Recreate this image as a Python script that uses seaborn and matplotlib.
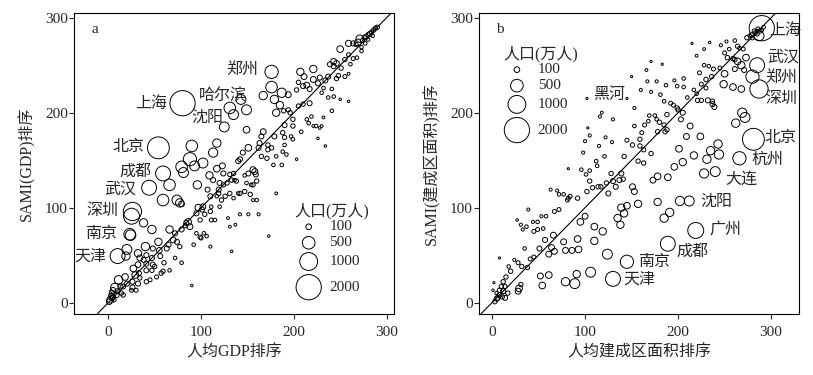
import numpy as np
import pandas as pd
import matplotlib
matplotlib.use("Agg")
import matplotlib.pyplot as plt
import seaborn as sns
from matplotlib.offsetbox import DrawingArea, TextArea, HPacker, VPacker, AnchoredOffsetbox
from matplotlib.patches import Circle

sns.set_style("ticks")
FAM = ["Liberation Serif", "Noto Sans CJK SC", "DejaVu Sans"]
plt.rcParams["font.family"] = FAM

# ---------------- Panel a: per-capita GDP rank vs SAMI(GDP) rank ----------------
a_names = ["上海", "北京", "成都", "武汉", "深圳", "南京", "天津", "郑州", "哈尔滨", "沈阳"]
a_name_x = [80, 54, 59, 44, 26, 23, 10, 176, 143, 125]
a_name_y = [210, 163, 136, 121, 96, 72, 49, 243, 214, 185]
a_name_pop = [2200, 1500, 700, 700, 1050, 420, 700, 550, 310, 310]
a_label_x = [63, 39.5, 46.7, 30.5, 10.8, 9, -1.8, 162, 124, 124]
a_label_y = [209, 163.5, 138, 119, 96, 72, 48.5, 245, 217, 194.5]

a_x = [25, 24,
       290, 288, 286, 284, 282, 280, 278, 276, 274, 271, 269, 267, 285, 280, 277, 273, 264, 259, 250, 259, 264, 255,
       243, 239, 243, 246, 251, 268, 273, 261, 255, 248, 246, 259,
       221, 207, 211, 221, 226, 228, 214, 234, 237, 232, 241, 230, 237, 243, 250, 259, 241, 217, 210, 205, 203, 194,
       176, 187, 167, 179, 185, 181,
       189, 196, 205, 210, 217, 194, 199, 214, 219, 216, 221, 228, 224, 232, 230, 208, 199, 190, 188, 197, 199, 190,
       179, 167, 165, 163, 172, 172, 162, 165, 171, 176, 190, 188, 192, 181, 178, 187, 203, 234, 226,
       151, 145, 140, 133, 138, 135, 128, 131, 124, 119, 119, 142, 147, 153, 151, 156, 158, 159, 160, 160, 156, 131,
       126, 122, 129, 131, 137, 142, 151, 162, 181, 173, 133, 90,
       142, 124, 120, 110, 102, 97, 101, 95, 104, 99, 110, 111, 115, 103, 99, 100, 106, 110, 92, 86, 88, 84, 79, 83,
       95, 77, 74, 79, 66, 70, 74, 77, 72, 72, 79, 66, 59, 57, 52, 45, 41, 32, 26, 60, 56, 54, 55, 63, 65, 48, 48, 47,
       50, 41, 41, 38, 41, 33, 29, 27, 32, 34, 26, 20, 25, 30, 16, 13, 11, 18, 7, 5, 4, 2, 4, 1, 5, 9, 14, 16, 3, 6, 10,
       40, 32, 34, 47, 20, 19, 38, 47,
       90, 88, 93, 79, 81, 102, 96, 107, 109, 113, 117, 123, 113, 117, 149, 131, 135, 149, 66, 59,
       136, 147, 149, 154, 156, 140, 135, 117, 111, 120]
a_y = [91, 71,
       290, 289, 287, 285, 283, 282, 280, 279, 276, 278, 274, 272, 281, 277, 273, 269, 273, 273, 267, 261, 257, 256,
       254, 251, 249, 252, 247, 258, 265, 251, 238, 239, 236, 241,
       246, 243, 238, 235, 231, 237, 229, 234, 238, 226, 225, 221, 216, 217, 214, 212, 202, 225, 228, 232, 224, 219,
       227, 221, 218, 214, 208, 200,
       202, 200, 207, 209, 210, 203, 193, 193, 196, 189, 186, 184, 186, 195, 186, 180, 186, 187, 179, 175, 172, 174,
       175, 180, 175, 168, 166, 161, 163, 154, 152, 163, 166, 159, 156, 154, 145, 145, 151, 165, 173,
       163, 158, 149, 129, 128, 136, 126, 135, 124, 119, 115, 115, 117, 114, 136, 140, 138, 135, 128, 108, 124, 115,
       112, 108, 89, 80, 82, 93, 93, 93, 115, 70, 54, 18,
       151, 136, 126, 112, 101, 100, 98, 94, 93, 87, 96, 87, 87, 73, 69, 68, 70, 59, 61, 85, 80, 84, 77, 81,
       73, 105, 108, 104, 77, 66, 64, 59, 73, 47, 42, 34, 33, 31, 27, 24, 22, 20, 16, 42, 49, 64, 55, 57, 61, 57, 40, 34,
       38, 34, 41, 45, 50, 31, 29, 36, 40, 26, 22, 20, 13, 13, 17, 17, 24, 27, 16, 13, 10, 3, 5, 1, 6, 8, 10, 8, 7, 3, 12,
       59, 52, 47, 47, 56, 49, 84, 77,
       165, 151, 144, 143, 137, 147, 124, 119, 134, 129, 141, 144, 158, 168, 182, 205, 198, 203, 124, 108,
       129, 134, 126, 124, 108, 115, 110, 112, 101, 101]
a_pop = [800, 350,
         60, 60, 60, 60, 80, 60, 80, 60, 60, 170, 140, 60, 40, 40, 40, 40, 80, 120, 140, 50, 50, 60,
         110, 80, 80, 100, 60, 40, 40, 40, 50, 60, 60, 25,
         170, 170, 110, 110, 80, 80, 110, 80, 80, 40, 40, 40, 40, 40, 20, 20, 40, 80, 80, 60, 60, 110,
         420, 270, 220, 220, 170, 170,
         60, 60, 60, 60, 80, 60, 60, 40, 40, 40, 25, 25, 40, 25, 25, 40, 60, 80, 60, 40, 40, 60,
         80, 110, 80, 80, 60, 60, 80, 60, 60, 60, 40, 40, 40, 40, 40, 40, 20, 20, 20,
         140, 80, 80, 60, 60, 60, 60, 60, 60, 80, 60, 60, 60, 60, 80, 110, 110, 80, 60, 40, 60, 60,
         60, 60, 25, 25, 25, 30, 30, 30, 25, 20, 20, 20,
         80, 80, 80, 80, 100, 140, 80, 80, 60, 60, 60, 50, 40, 40, 60, 50, 40, 30, 40, 140, 110, 80, 80, 60,
         40, 220, 310, 100, 170, 100, 80, 60, 80, 40, 40, 40, 60, 60, 50, 50, 60, 80, 80, 60, 80, 170, 100, 80, 80, 80, 80, 60,
         60, 80, 80, 80, 80, 80, 140, 140, 100, 60, 80, 80, 50, 50, 80, 80, 220, 140, 220, 100, 100, 140, 100, 100, 80, 80, 60, 60, 80, 60, 80,
         220, 170, 110, 80, 310, 220, 220, 220,
         420, 550, 310, 420, 310, 310, 220, 80, 170, 80, 140, 110, 270, 220, 140, 420, 310, 310, 420, 420,
         40, 40, 40, 40, 30, 40, 40, 40, 40, 40]

# ---------------- Panel b: per-capita built-up area rank vs SAMI(area) rank ----------------
b_names = ["上海", "武汉", "郑州", "深圳", "北京", "杭州", "大连", "沈阳", "广州", "成都", "南京", "天津", "黑河"]
b_name_x = [290, 285, 280, 287, 281, 266, 240, 212, 219, 189, 145, 130, 102]
b_name_y = [289, 250, 238, 225, 172, 152, 138, 107, 76, 62, 43, 25, 215]
b_name_pop = [2200, 700, 550, 1050, 1500, 550, 310, 310, 800, 700, 550, 700, 15]
b_label_x = [298, 296, 294, 294, 293, 278.5, 250.6, 224, 234, 198, 157, 140.7, 108.5]
b_label_y = [286, 258, 237, 214, 173, 150.5, 129, 106.5, 76.7, 54, 43, 24, 219]

b_x = [287, 228, 202,
       269, 272, 262, 243, 235, 244, 231, 217, 205, 201, 213, 209, 224, 196, 189, 178, 173, 178, 191, 185, 145, 139,
       142, 135, 138, 119, 110, 110, 124, 106, 91, 89, 79, 61, 52, 54, 29, 28, 31, 92, 86, 93, 95, 100, 77, 79, 67,
       64, 61, 66, 51, 57, 157,
       150, 145, 171, 183, 166, 167, 160, 171, 181, 177, 153, 118, 116, 130, 103, 105, 100, 115, 122, 129, 98, 121,
       112, 113, 105, 96, 101, 82, 63, 70, 72, 77, 82, 84, 81, 92, 67, 72, 58, 53, 49, 44, 49, 45, 55, 37, 33, 31,
       27, 39, 35, 45, 41, 38, 32, 28, 24, 8, 18, 20, 15, 12, 2, 1, 5, 8, 10, 14, 17, 11, 5, 6, 14, 3, 8, 12,
       228, 233, 238, 245, 215, 220, 228, 234, 246, 252, 261, 255, 250, 253, 259, 266, 274, 279, 282, 286, 261, 264,
       270, 264, 273, 268, 271, 250, 261, 249, 259, 268, 236, 230, 223, 225, 230, 217, 220, 225, 221, 232, 237, 239,
       237, 206, 206, 210, 199, 196, 187, 185, 192, 195, 199, 200, 205, 203, 188, 175, 177, 180, 185, 178, 186, 188,
       169, 168, 164, 161, 159, 153, 145, 151, 159, 163, 171, 142, 157, 163, 139, 128, 137, 130, 133, 125, 117, 123,
       141, 151, 153, 105, 108, 114, 102,
       283, 285, 280, 277, 288, 290, 292, 285]
b_y = [281, 136, 107,
       200, 195, 189, 167, 160, 156, 151, 155, 148, 162, 186, 175, 175, 143, 132, 133, 129, 106, 95, 89, 102, 100,
       94, 89, 82, 75, 80, 65, 51, 32, 30, 20, 22, 29, 28, 18, 15, 12, 19, 67, 55, 56, 85, 91, 64, 55, 54,
       58, 51, 71, 57, 66, 104,
       238, 215, 254, 251, 245, 233, 224, 222, 219, 233, 205, 200, 196, 193, 184, 176, 170, 165, 174, 169, 158, 154,
       149, 144, 139, 140, 135, 141, 119, 118, 114, 114, 110, 112, 108, 110, 96, 98, 91, 91, 85, 85, 77, 75, 78, 80, 77, 82,
       87, 98, 57, 48, 46, 37, 38, 42, 45, 47, 38, 33, 27, 22, 21, 13, 10, 13, 17, 17, 10, 6, 4, 5, 5, 1, 8, 12,
       250, 249, 246, 247, 273, 260, 267, 274, 271, 275, 276, 267, 263, 258, 257, 268, 279, 282, 286, 288, 256, 270,
       267, 254, 258, 250, 245, 241, 246, 230, 227, 225, 238, 235, 242, 230, 226, 224, 220, 213, 213, 213, 212, 206,
       209, 236, 227, 216, 228, 234, 229, 212, 210, 208, 205, 203, 200, 193, 198, 197, 193, 190, 187, 180, 180, 182,
       197, 191, 187, 179, 172, 186, 171, 166, 165, 161, 157, 154, 149, 147, 136, 136, 129, 128, 122, 115, 122, 126,
       130, 122, 117, 128, 121, 122, 117,
       284, 283, 279, 281, 286, 287, 290, 286]
b_pop = [310, 270, 270,
         270, 310, 220, 220, 220, 270, 220, 170, 170, 140, 110, 110, 140, 140, 140, 140, 110, 170, 220, 220, 140, 170,
         170, 170, 170, 170, 140, 170, 310, 310, 170, 310, 220, 140, 110, 140, 140, 110, 60, 140, 110, 140, 140, 110, 110, 110, 110,
         110, 110, 110, 80, 80, 170,
         15, 15, 15, 15, 25, 30, 30, 30, 40, 30, 30, 25, 30, 30, 15, 30, 30, 30, 30, 30, 30, 40,
         40, 40, 40, 40, 40, 15, 30, 30, 40, 40, 50, 50, 50, 60, 50, 50, 40, 30, 40, 30, 50, 50, 40, 40, 30, 30,
         20, 30, 40, 50, 50, 60, 60, 50, 30, 15, 40, 60, 60, 60, 15, 20, 40, 60, 60, 60, 60, 60, 80, 80, 80, 60, 80, 80,
         40, 40, 50, 50, 15, 25, 25, 20, 30, 30, 40, 40, 50, 60, 60, 40, 60, 60, 60, 60, 60, 60,
         50, 140, 140, 170, 80, 140, 80, 170, 140, 140, 60, 60, 50, 50, 50, 40, 40, 60, 60, 80, 60, 80,
         80, 40, 40, 40, 40, 30, 40, 40, 50, 50, 60, 60, 80, 80, 60, 40, 40, 60, 60, 60, 60, 60,
         40, 40, 50, 50, 60, 40, 50, 60, 60, 60, 60, 60, 60, 60, 80, 60, 80, 80, 80, 80, 60, 60,
         60, 110, 110, 60, 60, 60, 60,
         60, 60, 60, 40, 60, 40, 40, 40]

legend_pops = [100, 500, 1000, 2000]

SMAX = 330.0     # marker area (pt^2) for a population of 2000 (10k persons)
NMAX = 2000.0


def marker_area(p):
    return p / NMAX * SMAX


def draw_panel(ax, xs, ys, pops, nx, ny, npop):
    df = pd.DataFrame({"x": list(xs) + list(nx), "y": list(ys) + list(ny),
                       "pop": list(pops) + list(npop)})
    sns.scatterplot(data=df, x="x", y="y", size="pop", sizes=(0, SMAX), size_norm=(0, NMAX),
                    legend=False, color="black", facecolor="none", edgecolor="black",
                    linewidth=0.7, ax=ax, zorder=3)
    ax.axline((0, 0), slope=1, color="black", lw=0.8, zorder=2)


def size_legend(ax, anchor, heights):
    rows = []
    for p, h in zip(legend_pops, heights):
        d = np.sqrt(marker_area(p))
        w = 20
        da = DrawingArea(w, h, 0, 0)
        da.add_artist(Circle((w / 2, h / 2), d / 2, fc="none", ec="black", lw=0.7))
        ta = TextArea(str(p), textprops=dict(size=11, family=FAM))
        rows.append(HPacker(children=[da, ta], align="center", pad=0, sep=5))
    title = TextArea("人口(万人)", textprops=dict(size=11.5, family=FAM))
    box = VPacker(children=[title] + rows, align="left", pad=0, sep=-1)
    ab = AnchoredOffsetbox(loc="upper left", child=box, bbox_to_anchor=anchor,
                           bbox_transform=ax.transAxes, frameon=False, pad=0, borderpad=0)
    ax.add_artist(ab)


fig = plt.figure(figsize=(8.13, 3.75), dpi=100)
ax1 = fig.add_axes([74 / 813, 61 / 375, 320 / 813, 301 / 375])
ax2 = fig.add_axes([479 / 813, 61 / 375, 320 / 813, 301 / 375])

draw_panel(ax1, a_x, a_y, a_pop, a_name_x, a_name_y, a_name_pop)
draw_panel(ax2, b_x, b_y, b_pop, b_name_x, b_name_y, b_name_pop)

ax1.set_xlim(-37, 308)
ax2.set_xlim(-14, 330)
for ax in (ax1, ax2):
    ax.set_ylim(-12, 305)
    ax.set_xticks([0, 100, 200, 300])
    ax.set_yticks([0, 100, 200, 300])
    ax.tick_params(axis="both", direction="out", length=3.5, width=0.8, labelsize=11)
    ax.tick_params(axis="x", pad=5)
    ax.tick_params(axis="y", pad=1)
    for sp in ax.spines.values():
        sp.set_visible(True)
        sp.set_linewidth(0.8)
        sp.set_color("black")
    for lab in ax.get_xticklabels() + ax.get_yticklabels():
        lab.set_family(FAM)

ax1.set_xlabel("人均GDP排序", fontsize=11.5, labelpad=4)
ax1.set_ylabel("SAMI(GDP)排序", fontsize=11.5, labelpad=7)
ax2.set_xlabel("人均建成区面积排序", fontsize=11.5, labelpad=4)
ax2.set_ylabel("SAMI(建成区面积)排序", fontsize=11.5, labelpad=7)

for name, lx, ly in zip(a_names, a_label_x, a_label_y):
    ha = "center" if name == "哈尔滨" else "right"
    ax1.text(lx, ly, name, ha=ha, va="center", fontsize=11.5, family=FAM, zorder=4)
for name, lx, ly in zip(b_names, b_label_x, b_label_y):
    ax2.text(lx, ly, name, ha="left", va="center", fontsize=11.5, family=FAM, zorder=4)

ax1.text(-18, 288, "a", ha="left", va="center", fontsize=11, family=FAM)
ax2.text(4, 288, "b", ha="left", va="center", fontsize=11, family=FAM)

size_legend(ax1, (0.69, 0.368), [12, 13, 16, 23])
size_legend(ax2, (0.075, 0.89), [12, 13, 16, 23])

fig.savefig("out.png", dpi=100)
